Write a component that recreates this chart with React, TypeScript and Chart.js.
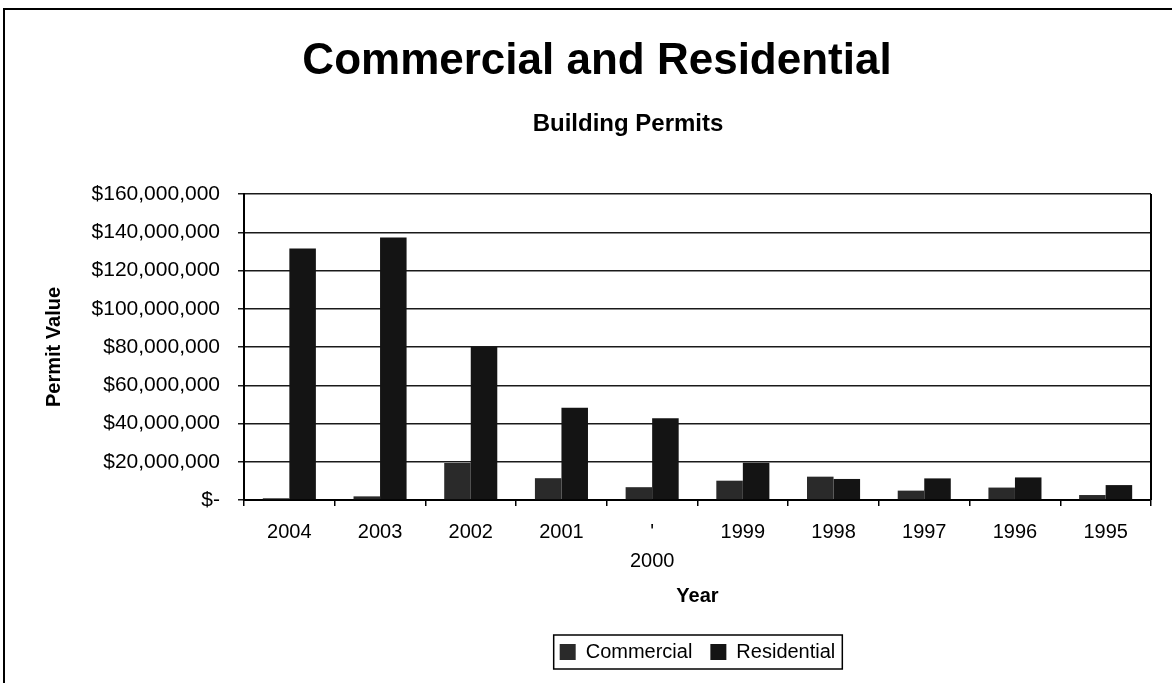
import React, { useEffect, useRef } from "react";
import { Chart, registerables } from "chart.js";

Chart.register(...registerables);

const titleText = "Commercial and Residential";
const subtitleText = "Building Permits";
const years: (string | string[])[] = ["2004", "2003", "2002", "2001", ["'", "2000"], "1999", "1998", "1997", "1996", "1995"];
const commercial = [900000, 1900000, 19300000, 11400000, 6700000, 10100000, 12200000, 4900000, 6500000, 2600000];
const residential = [131500000, 137300000, 80000000, 48300000, 42800000, 19500000, 11000000, 11300000, 11800000, 7800000];
const yTickMax = 160000000;
const yTickStep = 20000000;
const seriesNames = ["Commercial", "Residential"];

const FONT = "'Liberation Sans', Arial, Helvetica, sans-serif";

const decorPlugin = {
  id: "decor",
  afterDraw(chart: any) {
    const ctx = chart.ctx;
    const ca = chart.chartArea;
    ctx.save();
    ctx.strokeStyle = "#000";
    ctx.lineWidth = 2;
    ctx.beginPath();
    ctx.moveTo(4, 683);
    ctx.lineTo(4, 9);
    ctx.lineTo(1172, 9);
    ctx.stroke();
    ctx.beginPath();
    ctx.moveTo(ca.right, ca.top);
    ctx.lineTo(ca.right, ca.bottom);
    ctx.stroke();
    ctx.fillStyle = "#000";
    ctx.textAlign = "center";
    ctx.textBaseline = "alphabetic";
    ctx.font = `bold 44px ${FONT}`;
    ctx.fillText(titleText, 597, 74);
    ctx.font = `bold 24px ${FONT}`;
    ctx.fillText(subtitleText, 628, 131);
    const lg = chart.legend;
    if (lg && lg.legendHitBoxes && lg.legendHitBoxes.length) {
      const hb = lg.legendHitBoxes;
      const first = hb[0];
      const last = hb[hb.length - 1];
      const cy = first.top + first.height / 2;
      const x0 = first.left - 6;
      const x1 = last.left + last.width + 7;
      ctx.lineWidth = 1.5;
      ctx.strokeRect(x0, cy - 17, x1 - x0, 34);
    }
    ctx.restore();
  },
};

export default function App() {
  const ref = useRef<HTMLCanvasElement | null>(null);
  useEffect(() => {
    document.body.style.margin = "0";
    document.body.style.overflow = "hidden";
    if (!ref.current) return;
    Chart.defaults.font.family = FONT;
    Chart.defaults.color = "#000";
    const chart = new Chart(ref.current, {
      type: "bar",
      data: {
        labels: years,
        datasets: [
          {
            label: seriesNames[0],
            data: commercial,
            backgroundColor: "#2a2a2a",
            borderWidth: 0,
            categoryPercentage: 0.585,
            barPercentage: 1,
          },
          {
            label: seriesNames[1],
            data: residential,
            backgroundColor: "#141414",
            borderWidth: 0,
            categoryPercentage: 0.585,
            barPercentage: 1,
          },
        ],
      },
      options: {
        animation: false,
        responsive: false,
        layout: { padding: { top: 194, right: 21, bottom: 11, left: 0 } },
        plugins: {
          title: { display: false },
          tooltip: { enabled: false },
          legend: {
            display: true,
            position: "bottom",
            fullSize: false,
            labels: {
              font: { size: 20, family: FONT },
              color: "#000",
              boxWidth: 16,
              boxHeight: 16,
              padding: 18,
            },
          },
        },
        scales: {
          x: {
            grid: {
              display: true,
              drawOnChartArea: false,
              drawTicks: true,
              tickLength: 6,
              color: "#000",
              lineWidth: 1.5,
              offset: true,
            },
            border: { display: true, color: "#000", width: 2 },
            ticks: {
              font: { size: 20, family: FONT, lineHeight: 1.45 },
              color: "#000",
              padding: 12,
              maxRotation: 0,
              autoSkip: false,
            },
            title: {
              display: true,
              text: "Year",
              font: { size: 20, weight: "bold", family: FONT, lineHeight: 1.2 },
              color: "#000",
              padding: { top: 0, bottom: 16 },
            },
            afterFit: (scale: any) => {
              scale.height = 124;
            },
          },
          y: {
            min: 0,
            max: yTickMax,
            grid: {
              display: true,
              drawTicks: true,
              tickLength: 6,
              color: "#1a1a1a",
              lineWidth: 1.5,
            },
            border: { display: true, color: "#000", width: 2 },
            ticks: {
              stepSize: yTickStep,
              font: { size: 21, family: FONT },
              color: "#000",
              padding: 18,
              callback: (v: any) => (Number(v) === 0 ? "$-" : "$" + Number(v).toLocaleString("en-US")),
            },
            title: {
              display: true,
              text: "Permit Value",
              font: { size: 20, weight: "bold", family: FONT, lineHeight: 1.2 },
              color: "#000",
              padding: { top: 42, bottom: 0 },
            },
            afterFit: (scale: any) => {
              scale.width = 244;
            },
          },
        },
      },
      plugins: [decorPlugin],
    });
    return () => chart.destroy();
  }, []);
  return (
    <div style={{ width: 1172, height: 683, background: "#fff" }}>
      <canvas ref={ref} width={1172} height={683} />
    </div>
  );
}
